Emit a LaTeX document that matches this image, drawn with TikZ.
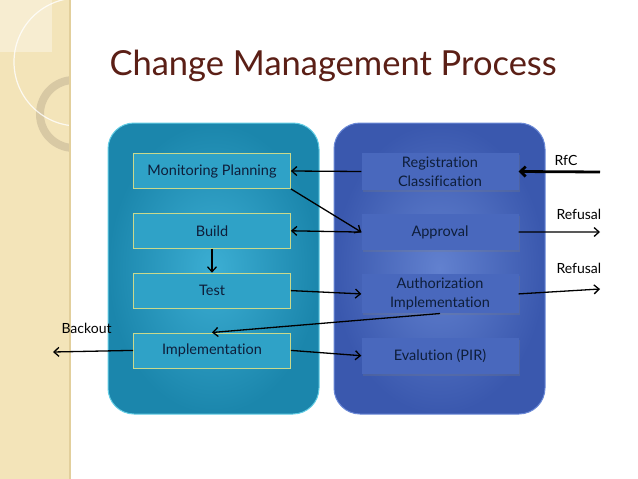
\documentclass[tikz,border=0pt]{standalone}
\usepackage{fontspec}
\setmainfont{Lato}[Ligatures=NoCommon]
\usetikzlibrary{arrows.meta, positioning, shadows}

\definecolor{stripfill}{HTML}{F3E4B9}
\definecolor{stripedge}{HTML}{E2CF9C}
\definecolor{ringcol}{HTML}{D8C9A4}
\definecolor{titlecol}{HTML}{5B1F16}
\definecolor{tealin}{HTML}{3CAED3}
\definecolor{tealout}{HTML}{1B86AC}
\definecolor{tealedge}{HTML}{62CCE4}
\definecolor{bluein}{HTML}{6281CF}
\definecolor{blueout}{HTML}{3A58AE}
\definecolor{blueedge}{HTML}{6A88D6}
\definecolor{tealbox}{HTML}{2FA2C7}
\definecolor{boxline}{HTML}{C9D98C}
\definecolor{bluebox}{HTML}{4968BD}
\definecolor{boxtext}{HTML}{0E1E3A}

\begin{document}
\begin{tikzpicture}[
  x=1pt, y=-1pt,
  lbox/.style={draw=boxline, line width=0.8pt, fill=tealbox, minimum width=157pt, minimum height=35pt, align=center, text=boxtext, font=\fontsize{14.5}{19}\selectfont},
  rbox/.style={fill=bluebox, minimum width=157pt, minimum height=36pt, align=center, text=boxtext, font=\fontsize{14.5}{19}\selectfont, drop shadow={opacity=0.25, shadow xshift=1pt, shadow yshift=-2pt}},
  outlabel/.style={font=\fontsize{14}{16}\selectfont, text=black},
  flow/.style={->, line width=1.3pt},
  >={Straight Barb[length=5pt,width=9pt]}, node distance=24pt
]
\useasboundingbox (0,0) rectangle (638,479);
\fill[white] (0,0) rectangle (638,479);

% left strip
\fill[stripfill] (0,0) rectangle (70,479);
\begin{scope}
  \clip (0,0) rectangle (70,479);
  \fill[white, opacity=0.35] (0,0) rectangle (52,52);
  \draw[ringcol, line width=8pt] (74,114) circle (34);
  \draw[white, opacity=0.8, line width=1.2pt] (78,62) circle (64);
\end{scope}
\draw[stripedge, line width=1.5pt] (70,0) -- (70,479);

% title
\node[anchor=base west, text=titlecol, font=\fontsize{34.5}{40}\selectfont] (title) at (106,75) {Change Management Process};

% panels
\shade[inner color=tealin, outer color=tealout, rounded corners=26pt] (108,123) rectangle (319,414);
\draw[tealedge, line width=1pt, rounded corners=26pt] (108,123) rectangle (319,414);
\shade[inner color=bluein, outer color=blueout, rounded corners=26pt] (334,123) rectangle (545,414);
\draw[blueedge, line width=1pt, rounded corners=26pt] (334,123) rectangle (545,414);

% left column
\node[lbox] (mon) at (212,171) {Monitoring Planning};
\node[lbox, below=of mon]   (build) {Build};
\node[lbox, below=of build] (test)  {Test};
\node[lbox, below=of test]  (impl)  {Implementation};

% right column
\node[rbox] (reg) at (440,171.5) {Registration\\Classification};
\node[rbox, below=of reg]  (appr) {Approval};
\node[rbox, below=of appr] (auth) {Authorization\\Implementation};
\node[rbox, below=of auth] (eval) {Evalution (PIR)};

% free ends
\coordinate (rfcin)   at (600,172);
\coordinate (refone)  at (600,232);
\coordinate (reftwo)  at (600,289);
\coordinate (backout) at (53,352);

\draw[->, line width=2.8pt, >={Straight Barb[length=5pt,width=10pt]}] (rfcin) -- (reg.east);
\node[outlabel, anchor=base west] (rfc) at (551,165) {RfC};
\draw[flow] (appr.east) -- (refone);
\node[outlabel, anchor=base west] (refusalone) at (553,219) {Refusal};
\draw[flow] (auth.east) -- (reftwo);
\node[outlabel, anchor=base west] (refusaltwo) at (553,273) {Refusal};

\draw[flow] (reg.west)  -- (mon.east);
\draw[flow] (mon.south east) -- (appr.west);
\draw[flow] (appr.west) -- (build.east);
\draw[flow] (build.south) -- (test.north);
\draw[flow] (test.east) -- (auth.west);
\draw[flow] (auth.south) -- (impl.north);
\draw[flow] (impl.east) -- (eval.west);
\draw[flow] (impl.west) -- (backout);
\node[outlabel, anchor=base west] (backlabel) at (58,333) {Backout};
\end{tikzpicture}
\end{document}
